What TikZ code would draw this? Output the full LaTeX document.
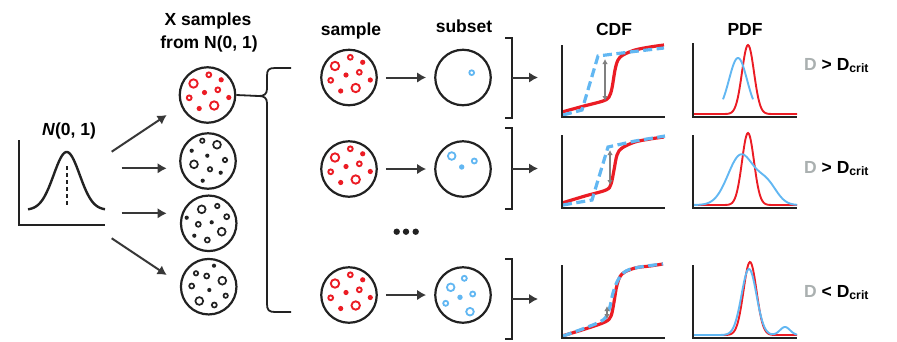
\documentclass[tikz,border=0pt]{standalone}
\usepackage{fontspec}
\setmainfont{Liberation Sans}
\usetikzlibrary{arrows.meta}
\definecolor{myred}{RGB}{235,28,36}
\definecolor{myblue}{RGB}{98,183,242}
\definecolor{mygray}{RGB}{128,128,128}
\definecolor{dgray}{RGB}{170,176,176}
\definecolor{dark}{RGB}{34,34,34}
\newcommand{\rpat}{%
  \draw[rring] (-14,-11.5) circle[radius=4.2];
  \draw[rring] (1.3,-20.2) circle[radius=2.4];
  \fill[myred] (13.7,-15.2) circle[radius=2.6];
  \fill[myred] (-3,-2.5) circle[radius=2.6];
  \draw[rring] (10.3,-5.2) circle[radius=2.4];
  \draw[rring] (-18.3,2.8) circle[radius=2.4];
  \fill[myred] (21.3,2.5) circle[radius=2.6];
  \fill[myred] (-8.3,13.5) circle[radius=2.6];
  \draw[rring] (6.7,10.5) circle[radius=4.2];}
\begin{document}
\begin{tikzpicture}[x=1pt,y=-1pt,
  lbl/.style={font=\fontsize{17.5}{20}\selectfont\bfseries, inner sep=0pt, anchor=base},
  axis/.style={draw=dark, line width=2.4pt},
  arr/.style={draw=dark!90, line width=2pt, -{Latex[length=9pt,width=10.5pt]}},
  samp/.style={circle, draw=dark, line width=2.2pt, minimum size=55.5pt, inner sep=0pt},
  rring/.style={draw=myred, line width=1.9pt},
  bring/.style={draw=myblue, line width=1.8pt},
  kring/.style={draw=dark, line width=1.7pt},
  brk/.style={draw=dark, line width=2.4pt},
  cdfred/.style={draw=myred, line width=3.2pt},
  cdfblue/.style={draw=myblue, line width=3.2pt, dash pattern=on 9pt off 4.5pt},
  pdfred/.style={draw=myred, line width=1.9pt},
  pdfblue/.style={draw=myblue, line width=1.9pt},
  garr/.style={draw=mygray, line width=1.3pt, {Latex[length=5pt,width=5.5pt]}-{Latex[length=5pt,width=5.5pt]}}
]
\useasboundingbox (0,0) rectangle (897,341);

% ---- N(0,1) plot
\node[lbl] (ntitle) at (69,135) {\textit{N}(0, 1)};
\draw[axis] (19,140) |- (105,225);
\draw[line width=2.4pt, dark] plot[domain=28:105, samples=80, smooth] (\x,{210-58*exp(max(-9,-((\x-66.7)^2)/338))});
\draw[line width=2.4pt, dark, dash pattern=on 4pt off 3pt] (66.7,166) -- (66.7,207);

% ---- headings
\node[lbl] (h1) at (208,25) {X samples};
\node[lbl] (h2) at (209,48.5) {from N(0, 1)};
\node[lbl] (hs) at (351,35) {sample};
\node[lbl] (hu) at (464,32.5) {subset};
\node[lbl] (hc) at (614,35) {CDF};
\node[lbl] (hp) at (745,35) {PDF};

% ---- left arrows
\coordinate (a1s) at (111.7,151.7); \coordinate (a1e) at (166.7,115);
\coordinate (a2s) at (121.7,168.3); \coordinate (a2e) at (166.7,168.3);
\coordinate (a3s) at (121.7,213.3); \coordinate (a3e) at (166.7,213.3);
\coordinate (a4s) at (111.7,238.3); \coordinate (a4e) at (166.7,275);
\draw[arr] (a1s) -- (a1e);
\draw[arr] (a2s) -- (a2e);
\draw[arr] (a3s) -- (a3e);
\draw[arr] (a4s) -- (a4e);

% ---- left column circles
\node[samp] (L1) at (207.5,95) {};
\node[samp] (L2) at (208,161) {};
\node[samp] (L3) at (208.7,223.3) {};
\node[samp] (L4) at (208.7,286.7) {};
\begin{scope}[shift={(207.5,95)}] \rpat \end{scope}
\begin{scope}[shift={(208,161)}]
  \draw[kring] (-5.7,-20.3) circle[radius=2.2];
  \draw[kring] (9,-16.3) circle[radius=3.9];
  \fill[dark] (-16.3,-10.3) circle[radius=2.1];
  \fill[dark] (-0.7,-5.3) circle[radius=2.1];
  \draw[kring] (17,-1) circle[radius=2.2];
  \draw[kring] (-14,3.3) circle[radius=3.9];
  \draw[kring] (2,8.3) circle[radius=2.2];
  \fill[dark] (12.7,11.7) circle[radius=2.1];
  \fill[dark] (-5.3,19.7) circle[radius=2.1];
\end{scope}
\begin{scope}[shift={(208.7,223.3)}]
  \draw[kring] (-7,-14) circle[radius=3.9];
  \draw[kring] (8.6,-17.3) circle[radius=2.2];
  \fill[dark] (-22,-5.6) circle[radius=2.1];
  \draw[kring] (18,-6.6) circle[radius=2.5];
  \draw[kring] (-10.4,1) circle[radius=2.5];
  \fill[dark] (3,-1) circle[radius=2.1];
  \draw[kring] (13,8.4) circle[radius=3.9];
  \fill[dark] (-14.4,12.4) circle[radius=2.1];
  \draw[kring] (-1.4,16.7) circle[radius=2.5];
\end{scope}
\begin{scope}[shift={(208.7,286.7)}]
  \fill[dark] (5.3,-21) circle[radius=2.1];
  \draw[kring] (-12.7,-13.4) circle[radius=2.2];
  \draw[kring] (-2,-10.7) circle[radius=2.5];
  \draw[kring] (13.6,-6) circle[radius=3.9];
  \draw[kring] (-17,-0.7) circle[radius=2.5];
  \fill[dark] (0.6,3.3) circle[radius=2.1];
  \draw[kring] (17,9) circle[radius=2.2];
  \draw[kring] (-9.4,14.3) circle[radius=3.9];
  \draw[kring] (5.6,18.3) circle[radius=2.5];
\end{scope}

% ---- brace
\coordinate (tip) at (259,96);
\draw[line width=1.8pt, dark] (L1.east) -- (tip);
\draw[line width=1.8pt, dark] (291,68) -- (275,68) .. controls (268.5,68) and (267,70) .. (267,76) -- (267,89)
   .. controls (267,94) and (264,96) .. (tip) .. controls (264,96) and (267,98) .. (267,103)
   -- (267,304) .. controls (267,310) and (269,312) .. (275,312) -- (291,312);

% ---- sample and subset circles
\node[samp] (S1) at (349,77.5) {};
\node[samp] (S2) at (349,169) {};
\node[samp] (S3) at (349,295) {};
\node[samp] (U1) at (463,77.5) {};
\node[samp] (U2) at (463,169) {};
\node[samp] (U3) at (463,295) {};
\begin{scope}[shift={(349,77.5)}] \rpat \end{scope}
\begin{scope}[shift={(349,169)}] \rpat \end{scope}
\begin{scope}[shift={(349,295)}] \rpat \end{scope}
\begin{scope}[shift={(463,77.5)}]
  \draw[bring] (8.7,-4.8) circle[radius=2.4];
\end{scope}
\begin{scope}[shift={(463,169)}]
  \draw[bring] (-11.3,-13) circle[radius=3.8];
  \draw[bring] (11.3,-8) circle[radius=2.5];
  \fill[myblue] (-1.3,-2) circle[radius=2.7];
\end{scope}
\begin{scope}[shift={(463,295)}]
  \draw[bring] (1.3,-16.7) circle[radius=2.5];
  \draw[bring] (-12.3,-7.7) circle[radius=3.8];
  \draw[bring] (9.7,-1) circle[radius=2.5];
  \fill[myblue] (-3,2.3) circle[radius=2.7];
  \draw[bring] (-17.3,8.3) circle[radius=2.5];
  \draw[bring] (7,16.7) circle[radius=3.8];
\end{scope}
\draw[arr, shorten <=8pt, shorten >=8pt] (S1) -- (U1);
\draw[arr, shorten <=8pt, shorten >=8pt] (S2) -- (U2);
\draw[arr, shorten <=8pt, shorten >=8pt] (S3) -- (U3);

% ---- ellipsis
\fill[dark] (396.7,231.7) circle[radius=3.2];
\fill[dark] (406,231.7) circle[radius=3.2];
\fill[dark] (415.7,231.7) circle[radius=3.2];

% ---- brackets and arrows
\draw[brk] (505,38) -- (512,38) -- (512,118) -- (505,118);
\draw[brk] (505,128) -- (512,128) -- (512,209) -- (505,209);
\draw[brk] (505,259) -- (512,259) -- (512,339) -- (505,339);
\coordinate (b1) at (512,77.5); \coordinate (c1) at (538,77.5);
\coordinate (b2) at (512,168.5); \coordinate (c2) at (538,168.5);
\coordinate (b3) at (512,299); \coordinate (c3) at (538,299);
\draw[arr] (b1) -- (c1);
\draw[arr] (b2) -- (c2);
\draw[arr] (b3) -- (c3);

% ---- CDF row 1
\draw[cdfred] plot[smooth, tension=0.55] coordinates {(562,112) (584,106) (603,101) (609,97) (612,88) (615,70) (618,60) (623,55) (635,50) (650,47) (664,45)};
\draw[cdfblue] (563,115) -- (582,110) -- (598,56) -- (630,52) -- (664,48);
\draw[garr] (605,59) -- (605,101);
\draw[axis] (562,45) |- (665,117);
% ---- PDF row 1
\draw[pdfred] plot[domain=693:797, samples=120, smooth] (\x,{114-69*exp(max(-9,-((\x-748)^2)/72))});
\draw[pdfblue] plot[domain=723:753, samples=40, smooth] (\x,{113-55*exp(max(-9,-((\x-738)^2)/162))});
\draw[axis] (693,43) |- (797,117);
\node[lbl, anchor=base west] (d1) at (804,70) {\textcolor{dgray}{D} \textgreater{} D\textsubscript{crit}};

% ---- CDF row 2
\draw[cdfred] plot[smooth, tension=0.55] coordinates {(562,203) (585,196) (606,190) (611,184) (614,170) (617,155) (622,148) (635,142) (650,139) (664,137)};
\draw[cdfblue] (563,205) -- (592,200) -- (608,147) -- (635,141) -- (665,136);
\draw[garr] (610,150) -- (610,185);
\draw[axis] (562,135) |- (665,208);
% ---- PDF row 2
\draw[pdfred] plot[domain=693:797, samples=120, smooth] (\x,{205-72*exp(max(-9,-((\x-748)^2)/72))});
\draw[pdfblue] plot[domain=693:797, samples=120, smooth] (\x,{205-50*exp(max(-9,-((\x-741)^2)/338))-20*exp(max(-9,-((\x-767)^2)/200))});
\draw[axis] (693,135) |- (797,208);
\node[lbl, anchor=base west] (d2) at (804,173) {\textcolor{dgray}{D} \textgreater{} D\textsubscript{crit}};

% ---- CDF row 3
\draw[cdfred] plot[smooth, tension=0.55] coordinates {(562,336) (585,329) (605,322) (611,316) (614,302) (617,285) (622,274) (635,268) (650,266) (663,264)};
\draw[cdfblue] plot[smooth, tension=0.55] coordinates {(563,336) (585,328) (603,320) (609,310) (613,293) (618,280) (626,271) (640,267) (663,264)};
\draw[garr] (607,306) -- (607,319);
\draw[axis] (562,265) |- (665,338);
% ---- PDF row 3
\draw[pdfred] plot[domain=693:797, samples=120, smooth] (\x,{335-73*exp(max(-9,-((\x-750)^2)/84.5))});
\draw[pdfblue] plot[domain=693:797, samples=120, smooth] (\x,{335-66*exp(max(-9,-((\x-749)^2)/112.5))-8*exp(max(-9,-((\x-785)^2)/50))});
\draw[axis] (693,265) |- (797,338);
\node[lbl, anchor=base west] (d3) at (804,297) {\textcolor{dgray}{D} \textless{} D\textsubscript{crit}};
\end{tikzpicture}
\end{document}
